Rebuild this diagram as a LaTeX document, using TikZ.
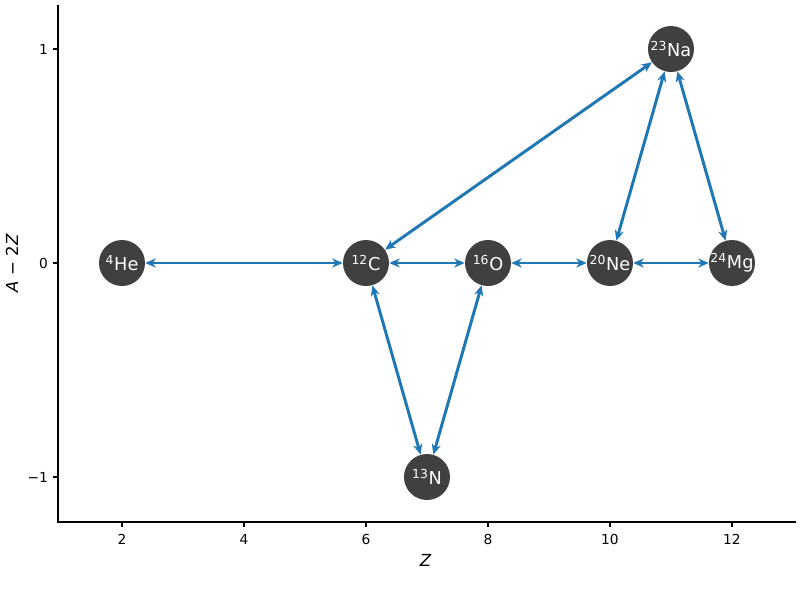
\documentclass[tikz,border=0pt]{standalone}
\usepackage{fontspec}
\setmainfont{DejaVu Sans}
\usepackage{xcolor}
\usetikzlibrary{arrows.meta}
\definecolor{nucgray}{HTML}{404040}
\definecolor{linkblue}{HTML}{1F77B4}
\newcommand{\iso}[2]{\makebox[0pt]{\textsuperscript{#1}#2}}
\tikzset{
  nuc/.style={circle, fill=nucgray, text=white, minimum size=1.15cm, inner sep=0pt, font=\fontsize{12.6}{14}\selectfont},
  link/.style={linkblue, line width=2.1pt, {Stealth[length=7.5pt,width=6.5pt]}-{Stealth[length=7.5pt,width=6.5pt]}},
  spine/.style={black, line width=0.8pt},
  ticklab/.style={font=\fontsize{9.8}{11}\selectfont, inner sep=0pt}
}
\begin{document}
\begin{tikzpicture}[x=1.525cm, y=5.35cm]
				\useasboundingbox (0,-1.5748) rectangle (13.115,1.229);
				% axes
				\draw[spine] (0.951,1.206) -- (0.951,-1.210) -- (13.05,-1.210);
				\foreach \z in {2,4,...,12}
				  \draw[spine] (\z,-1.210) -- ++(0,-0.12cm) node[ticklab, below=0.17cm] {\z};
				\foreach \a/\lab in {-1/−1, 0/0, 1/1}
				  \draw[spine] (0.951,\a) -- ++(-0.12cm,0) node[ticklab, left=0.12cm] {\lab};
				\node[font=\fontsize{11.8}{13}\selectfont] (zlab) at (6.98,-1.388) {\textit{Z}};
				\node[font=\fontsize{11.8}{13}\selectfont, rotate=90] (alab) at (0.197,0) {\textit{A} − 2\textit{Z}};
				% nuclei
				\node[nuc] (he) at (2,0) {\iso{4}{He}};
				\node[nuc] (c) at (6,0) {\iso{12}{C}};
				\node[nuc] (o) at (8,0) {\iso{16}{O}};
				\node[nuc] (ne) at (10,0) {\iso{20}{Ne}};
				\node[nuc] (mg) at (12,0) {\iso{24}{Mg}};
				\node[nuc] (na) at (11,1) {\iso{23}{Na}};
				\node[nuc] (n) at (7,-1) {\iso{13}{N}};
				% links
				\draw[link] (he) -- (c);
				\draw[link] (c) -- (o);
				\draw[link] (o) -- (ne);
				\draw[link] (ne) -- (mg);
				\draw[link] (c) -- (na);
				\draw[link] (na) -- (ne);
				\draw[link] (na) -- (mg);
				\draw[link] (c) -- (n);
				\draw[link] (n) -- (o);
\end{tikzpicture}
\end{document}
